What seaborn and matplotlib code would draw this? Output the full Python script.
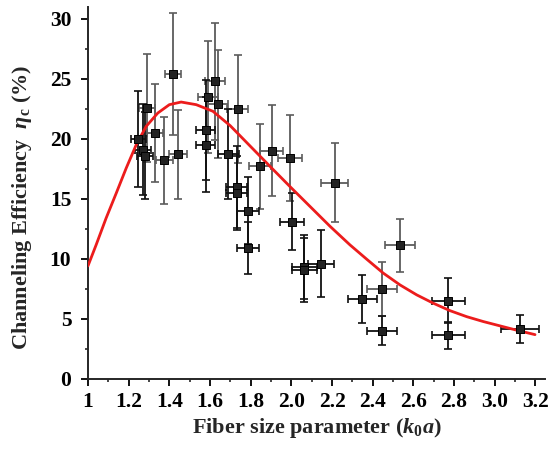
import numpy as np
import matplotlib
matplotlib.use("Agg")
import matplotlib.pyplot as plt
from matplotlib.ticker import MultipleLocator, FixedLocator
import seaborn as sns

# measured points, error bars drawn in gray
gray_x = [1.289, 1.33, 1.376, 1.417, 1.442, 1.589, 1.625, 1.638, 1.737,
          1.846, 1.904, 1.994, 2.213, 2.534, 2.444]
gray_y = [22.6, 20.5, 18.2, 25.4, 18.7, 23.5, 24.8, 22.9, 22.5,
          17.7, 19.0, 18.4, 16.35, 11.1, 7.45]
gray_yerr = [4.5, 4.1, 3.6, 5.1, 3.7, 4.7, 4.9, 4.5, 4.5,
             3.55, 3.8, 3.6, 3.3, 2.2, 2.25]
gray_xerr = [0.039, 0.04, 0.041, 0.039, 0.043, 0.048, 0.049, 0.049, 0.052,
             0.055, 0.057, 0.06, 0.066, 0.074, 0.074]

# measured points, error bars drawn in black
black_x = [1.248, 1.27, 1.281, 1.579, 1.579, 1.69, 1.732, 1.732, 1.789, 1.789,
           2.002, 2.064, 2.064, 2.146, 2.349, 2.444, 2.772, 2.772, 3.123]
black_y = [20.0, 19.1, 18.6, 20.75, 19.5, 18.7, 16.0, 15.5, 14.0, 10.9,
           13.1, 9.3, 9.06, 9.57, 6.64, 4.0, 6.5, 3.6, 4.13]
black_yerr = [4.0, 3.8, 3.6, 4.15, 3.95, 3.75, 3.4, 3.1, 2.8, 2.2,
              2.4, 2.7, 2.7, 2.8, 2.0, 1.2, 1.9, 1.1, 1.2]
black_xerr = [0.038, 0.038, 0.038, 0.047, 0.047, 0.05, 0.052, 0.052, 0.054, 0.054,
              0.06, 0.062, 0.062, 0.064, 0.07, 0.074, 0.082, 0.082, 0.093]

# theory curve
curve_x = [1.0, 1.04, 1.089, 1.139, 1.188, 1.237, 1.286, 1.343, 1.4, 1.458,
           1.532, 1.614, 1.699, 1.797, 1.895, 1.994, 2.092, 2.19, 2.288, 2.37,
           2.452, 2.534, 2.616, 2.698, 2.78, 2.862, 2.944, 3.026, 3.108, 3.198]
curve_y = [9.4, 11.15, 13.38, 15.47, 17.56, 19.5, 21.04, 22.15, 22.85, 23.07,
           22.85, 22.3, 21.1, 19.4, 17.7, 16.0, 14.35, 12.7, 11.15, 9.96,
           8.79, 7.81, 6.98, 6.28, 5.66, 5.16, 4.75, 4.39, 4.03, 3.66]

x_ticks = [1.0, 1.2, 1.4, 1.6, 1.8, 2.0, 2.2, 2.4, 2.6, 2.8, 3.0, 3.2]
x_ticklabels = ['1', '1.2', '1.4', '1.6', '1.8', '2.0', '2.2', '2.4', '2.6', '2.8', '3.0', '3.2']

sns.set_style("ticks")
plt.rcParams['font.family'] = ['Liberation Serif', 'DejaVu Serif']
plt.rcParams['font.weight'] = 'bold'
plt.rcParams['mathtext.fontset'] = 'custom'
plt.rcParams['mathtext.rm'] = 'Liberation Serif:bold'
plt.rcParams['mathtext.it'] = 'Liberation Serif:italic:bold'
plt.rcParams['mathtext.bf'] = 'Liberation Serif:bold'

fig = plt.figure(figsize=(5.53, 4.5), dpi=100)
ax = fig.add_axes([88/553, 71.5/450, 457/553, 371.5/450])

ax.errorbar(gray_x, gray_y, yerr=gray_yerr, xerr=gray_xerr, fmt='none',
            ecolor='#5c5c5c', elinewidth=1.3, capsize=3, capthick=1.2, zorder=2)
ax.errorbar(black_x, black_y, yerr=black_yerr, xerr=black_xerr, fmt='none',
            ecolor='#111111', elinewidth=1.3, capsize=3, capthick=1.2, zorder=2)

sns.lineplot(x=curve_x, y=curve_y, ax=ax, color='#ec1c1c', linewidth=2.0, zorder=3)

sns.scatterplot(x=gray_x + black_x, y=gray_y + black_y, ax=ax, marker='s', s=34,
                color='#222222', edgecolor='black', linewidth=0.7, zorder=4)

ax.set_xlim(1.0, 3.247)
ax.set_ylim(0, 31.0)
ax.xaxis.set_major_locator(FixedLocator(x_ticks))
ax.set_xticklabels(x_ticklabels)
ax.xaxis.set_minor_locator(MultipleLocator(0.1))
ax.yaxis.set_major_locator(MultipleLocator(5))
ax.yaxis.set_minor_locator(MultipleLocator(2.5))

sns.despine(ax=ax)
for s in ['left', 'bottom']:
    ax.spines[s].set_linewidth(1.4)
ax.tick_params(which='major', direction='out', length=5, width=1.3,
               labelsize=15.5, colors='black')
ax.tick_params(which='minor', direction='out', length=2.5, width=1.2)
ax.tick_params(axis='x', which='major', pad=5)
ax.tick_params(axis='y', which='major', pad=7)

ax.set_xlabel(r'Fiber size parameter ($k_0a$)', fontsize=16, fontweight='bold')
ax.set_ylabel(r'Channeling Efficiency  $\eta_\mathrm{c}$ (%)', fontsize=16,
              fontweight='bold')
ax.xaxis.set_label_coords(0.5, -0.1)
ax.yaxis.set_label_coords(-0.118, 0.46)

fig.savefig('out.png', dpi=100)
